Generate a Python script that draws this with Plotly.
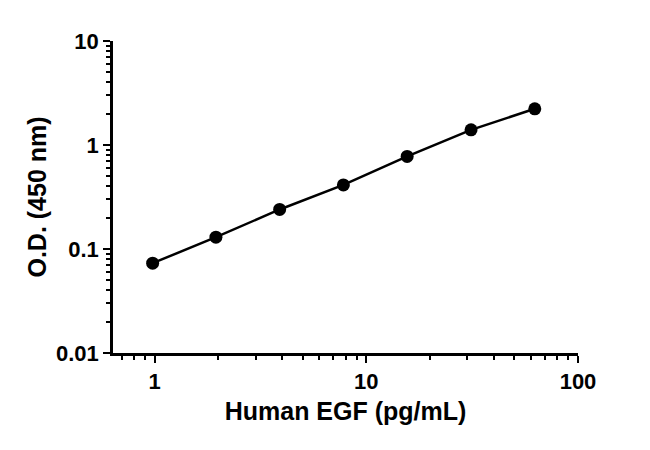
import plotly.graph_objects as go

# standard curve values
egf_conc = [0.98, 1.95, 3.9, 7.8, 15.6, 31.25, 62.5]
od_450 = [0.073, 0.130, 0.24, 0.413, 0.777, 1.40, 2.23]

x_tickvals = [1, 10, 100]
x_ticktext = ["1", "10", "100"]
y_tickvals = [0.01, 0.1, 1, 10]
y_ticktext = ["0.01", "0.1", "1", "10"]

font_family = "Arial, Liberation Sans, sans-serif"

fig = go.Figure()

fig.add_trace(go.Scatter(
    x=egf_conc,
    y=od_450,
    mode="lines+markers",
    line=dict(color="black", width=2.5),
    marker=dict(color="black", size=13),
    showlegend=False,
))

axis_common = dict(
    showgrid=False,
    zeroline=False,
    showline=True,
    linecolor="black",
    linewidth=2.5,
    ticks="outside",
    ticklen=7,
    tickwidth=2,
    tickcolor="black",
    automargin=False,
    tickfont=dict(family=font_family, size=22, color="black", weight="bold"),
    minor=dict(ticks="outside", ticklen=4, tickwidth=2, tickcolor="black", dtick="D1"),
)

fig.update_xaxes(
    type="log",
    range=[-0.196, 2],
    tickvals=x_tickvals,
    ticktext=x_ticktext,
    title=dict(text="Human EGF (pg/mL)", standoff=10,
               font=dict(family=font_family, size=25, color="black", weight="bold")),
    **axis_common,
)

fig.update_yaxes(
    type="log",
    range=[-2, 1],
    tickvals=y_tickvals,
    ticktext=y_ticktext,
    title=dict(text="O.D. (450 nm)", standoff=3,
               font=dict(family=font_family, size=25, color="black", weight="bold")),
    **axis_common,
)

# page body adds ~8px offset, so margins are trimmed to match
fig.update_layout(
    width=650,
    height=450,
    margin=dict(l=105, r=80, t=33, b=105),
    paper_bgcolor="white",
    plot_bgcolor="white",
)

fig.write_html("out.html")
